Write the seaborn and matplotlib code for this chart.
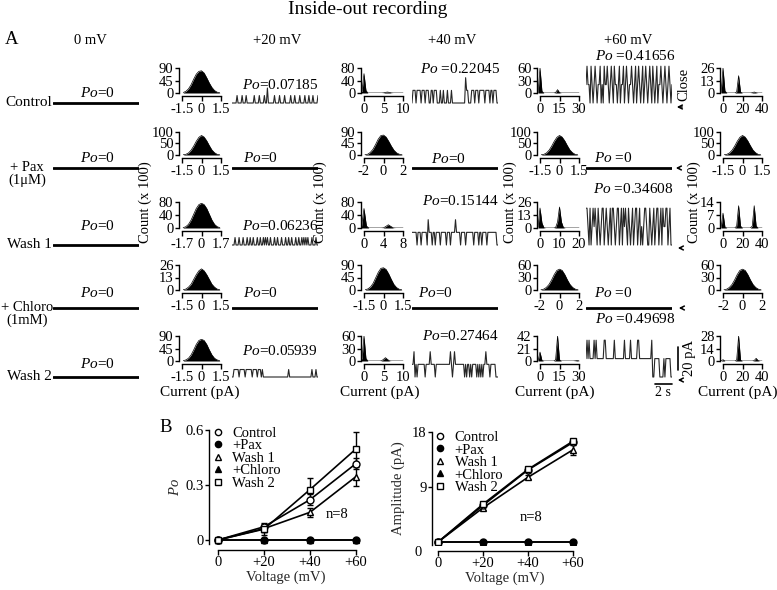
import numpy as np
import matplotlib
matplotlib.use('Agg')
import matplotlib.pyplot as plt
import seaborn as sns
from matplotlib.lines import Line2D
from matplotlib.patches import FancyArrowPatch

# ---------------- data ----------------
conditions = ['Control', '+Pax', 'Wash 1', '+Chloro', 'Wash 2']
voltages = [0, 20, 40, 60]
volt_labels = ['0', '+20', '+40', '+60']

po_mean = {'Control': [0, 0.072, 0.220, 0.417],
           '+Pax': [0, 0, 0, 0],
           'Wash 1': [0, 0.062, 0.151, 0.346],
           '+Chloro': [0, 0, 0, 0],
           'Wash 2': [0, 0.059, 0.275, 0.497]}
po_err = {'Control': [0, 0.02, 0.03, 0.03],
          '+Pax': [0, 0, 0, 0],
          'Wash 1': [0, 0.02, 0.025, 0.05],
          '+Chloro': [0, 0, 0, 0],
          'Wash 2': [0, 0.03, 0.065, 0.09]}
amp_mean = {'Control': [0, 6.0, 11.8, 16.3],
            '+Pax': [0, 0, 0, 0],
            'Wash 1': [0, 5.6, 10.6, 15.1],
            '+Chloro': [0, 0, 0, 0],
            'Wash 2': [0, 6.2, 11.9, 16.5]}
amp_err = {'Control': [0, 0.3, 0.4, 0.3],
           '+Pax': [0, 0, 0, 0],
           'Wash 1': [0, 0.3, 0.3, 0.8],
           '+Chloro': [0, 0, 0, 0],
           'Wash 2': [0, 0.3, 0.4, 0.3]}

row_labels = ['Control', '+ Pax\n(1\u03bcM)', 'Wash 1', '+ Chloro\n(1mM)', 'Wash 2']
col_titles = ['0 mV', '+20 mV', '+40 mV', '+60 mV']
po_text = [['=0', '=0.07185', ' =0.22045', ' =0.41656'],
           ['=0', '=0', '=0', ' =0'],
           ['=0', '=0.06236', '=0.15144', ' =0.34608'],
           ['=0', '=0', '=0', ' =0'],
           ['=0', '=0.05939', '=0.27464', ' =0.49698']]

# unitary current (pA) per voltage column
unit_amp = [0, 6.5, 11, 16]

# single-channel traces, one character per sample = number of open channels
traces = [
    ['', '00000100001000100000001000010000100200000010000100001000001000100001000010001000100001',
     '01110111101110111001101110001001000100010000000000000211000111011101111101111011011100',
     '12110210121011201021121012102110120112012101121012012101201210121021012011210121012101'],
    ['', '', '', ''],
    ['', '00010001000100010010010001001001010100100010010001000100100100010010010101010001000100',
     '11111011101111102111011011110111110111011112111101111011111110111101101111011111111100',
     '22102012121021012201210120221012201202121021012012201201012210021012012201202112201200'],
    ['', '', '', ''],
    ['', '00111110111110111111011110111010000000000000000000000000100000000000000000000001000100',
     '11201011111110111121111011111111111111210121111111110101101011110101010112111011111000',
     '12121111212111111122111111112111111111211111211111122111111111111200111110000101111100'],
]

# amplitude histograms (count x 100)
h_ctrl_20 = [2, 6, 15, 30, 50, 68, 78, 80, 72, 55, 36, 20, 9, 3, 1]
h_ctrl_40 = [0, 6, 62, 8, 0, 0, 0, 0, 0, 0, 0, 0, 0.5, 2, 3, 2, 0.5, 0, 0, 0, 0, 0, 0]
h_ctrl_60 = [0, 60, 4, 0, 0, 0, 0, 0, 0, 1, 8, 1, 0, 0, 0, 0, 0, 0, 0, 0, 0, 0]
h_ctrl_cl = [0, 26, 2, 0, 0, 0, 0, 0, 1, 18, 1, 0, 0, 0, 0, 0, 0.3, 1, 0.3, 0, 0, 0]
h_pax_20 = [1, 3, 9, 21, 39, 60, 77, 85, 78, 62, 41, 22, 10, 3, 1]
h_pax_40 = [1, 3, 10, 22, 41, 62, 76, 78, 70, 53, 34, 18, 8, 3, 1]
h_pax_60 = [1, 3, 9, 21, 39, 60, 77, 85, 78, 62, 41, 22, 10, 3, 1]
h_pax_cl = [1, 3, 9, 21, 39, 60, 77, 85, 78, 62, 41, 22, 10, 3, 1]
h_w1_20 = [1, 4, 11, 24, 42, 60, 72, 76, 72, 60, 42, 24, 11, 4, 1]
h_w1_40 = [0, 5, 60, 6, 0, 0, 0, 0, 0, 0, 0.5, 5, 10, 5, 0.5, 0, 0, 0, 0]
h_w1_60 = [1, 20, 5, 0.3, 0, 0, 0, 0, 0, 0.5, 6, 21, 6, 0.5, 0, 0, 0, 0, 0, 0, 0, 0]
h_w1_cl = [0, 8, 0.5, 0, 0, 0, 0, 0, 1, 12, 1, 0, 0, 0, 0, 0, 1, 12, 1, 0, 0, 0]
h_chl_20 = [0.3, 1, 3, 6, 11, 16, 20, 22, 20, 16, 11, 6, 3, 1, 0.3]
h_chl_40 = [1, 4, 11, 24, 44, 64, 78, 80, 74, 58, 38, 20, 9, 3, 1]
h_chl_60 = [0.5, 2, 6, 13, 24, 37, 47, 50, 47, 37, 24, 13, 6, 2, 0.5]
h_chl_cl = [0.5, 2, 6, 13, 24, 37, 47, 50, 47, 37, 24, 13, 6, 2, 0.5]
h_w2_20 = [1, 4, 10, 22, 40, 60, 74, 78, 74, 60, 40, 22, 10, 4, 1]
h_w2_40 = [0, 6, 60, 6, 0, 0, 0, 0, 0, 0, 0, 0.5, 4, 8, 4, 0.5, 0, 0, 0, 0, 0, 0, 0]
h_w2_60 = [0, 15, 1, 0, 0, 0, 0, 0, 0, 2, 42, 2, 0, 0, 0, 0, 0, 0, 0, 0.3, 0.8, 0.3]
h_w2_cl = [0, 1.5, 0, 0, 0, 0, 0, 0, 1, 28, 1, 0, 0, 0, 0, 0, 0, 0.5, 3, 0.5, 0, 0]

# (bin range lo, hi) , counts, x ticks, x tick labels, y ticks
hists = [
    [((-1.4, 1.4), h_ctrl_20, [-1.5, 0, 1.5], ['-1.5', '0', '1.5'], [0, 45, 90]),
     ((-1, 10), h_ctrl_40, [0, 5, 10], ['0', '5', '10'], [0, 40, 80]),
     ((-1.5, 30), h_ctrl_60, [0, 15, 30], ['0', '15', '30'], [0, 30, 60]),
     ((-2, 40), h_ctrl_cl, [0, 20, 40], ['0', '20', '40'], [0, 13, 26])],
    [((-1.4, 1.4), h_pax_20, [-1.5, 0, 1.5], ['-1.5', '0', '1.5'], [0, 50, 100]),
     ((-1.9, 1.9), h_pax_40, [-2, 0, 2], ['-2', '0', '2'], [0, 45, 90]),
     ((-1.4, 1.4), h_pax_60, [-1.5, 0, 1.5], ['-1.5', '0', '1.5'], [0, 50, 100]),
     ((-1.4, 1.4), h_pax_cl, [-1.5, 0, 1.5], ['-1.5', '0', '1.5'], [0, 50, 100])],
    [((-1.6, 1.6), h_w1_20, [-1.7, 0, 1.7], ['-1.7', '0', '1.7'], [0, 40, 80]),
     ((-1, 8), h_w1_40, [0, 4, 8], ['0', '4', '8'], [0, 40, 80]),
     ((-1, 20), h_w1_60, [0, 10, 20], ['0', '10', '20'], [0, 13, 26]),
     ((-2, 40), h_w1_cl, [0, 20, 40], ['0', '20', '40'], [0, 7, 14])],
    [((-1.4, 1.4), h_chl_20, [-1.5, 0, 1.5], ['-1.5', '0', '1.5'], [0, 13, 26]),
     ((-1.4, 1.4), h_chl_40, [-1.5, 0, 1.5], ['-1.5', '0', '1.5'], [0, 45, 90]),
     ((-1.9, 1.9), h_chl_60, [-2, 0, 2], ['-2', '0', '2'], [0, 30, 60]),
     ((-1.9, 1.9), h_chl_cl, [-2, 0, 2], ['-2', '0', '2'], [0, 30, 60])],
    [((-1.4, 1.4), h_w2_20, [-1.5, 0, 1.5], ['-1.5', '0', '1.5'], [0, 45, 90]),
     ((-1, 10), h_w2_40, [0, 5, 10], ['0', '5', '10'], [0, 30, 60]),
     ((-1.5, 30), h_w2_60, [0, 15, 30], ['0', '15', '30'], [0, 21, 42]),
     ((-2, 40), h_w2_cl, [0, 20, 40], ['0', '20', '40'], [0, 14, 28])],
]

# ---------------- style ----------------
sns.set_theme(style='ticks')
plt.rcParams['font.family'] = ['Liberation Serif', 'DejaVu Serif']
plt.rcParams.update({
    'font.size': 10.5, 'xtick.labelsize': 10.5, 'ytick.labelsize': 10.5,
    'axes.labelsize': 10.5, 'legend.fontsize': 10.5,
    'mathtext.fontset': 'custom', 'mathtext.it': 'Liberation Serif:italic',
    'mathtext.rm': 'Liberation Serif',
    'axes.edgecolor': 'black', 'axes.linewidth': 1.0,
    'xtick.color': 'black', 'ytick.color': 'black', 'text.color': 'black',
    'xtick.major.width': 1.0, 'ytick.major.width': 1.0,
    'xtick.major.size': 3.5, 'ytick.major.size': 3,
    'xtick.major.pad': 1.0, 'ytick.major.pad': 1.0,
})

W, H = 777, 590
fig = plt.figure(figsize=(W / 100, H / 100), dpi=100)


def box(x0, y0, x1, y1):
    return fig.add_axes([x0 / W, 1 - y1 / H, (x1 - x0) / W, (y1 - y0) / H])


def ftext(x, y, s, **kw):
    kw.setdefault('ha', 'center')
    kw.setdefault('va', 'center')
    fig.text(x / W, 1 - y / H, s, **kw)


def arrow(x0, x1, y):
    fig.add_artist(FancyArrowPatch((x0 / W, 1 - y / H), (x1 / W, 1 - y / H),
                                   transform=fig.transFigure, arrowstyle='->',
                                   mutation_scale=7, lw=1.1, color='black'))


def fline(xs, ys, lw=1.2):
    fig.add_artist(Line2D([x / W for x in xs], [1 - y / H for y in ys],
                          transform=fig.transFigure, color='black', lw=lw))


# ---------------- panel A layout ----------------
hist_top = [68, 132, 202, 265, 336]
hist_zero = [93, 155, 228, 290, 361]
baseline = [103, 168, 245, 308, 377]
hist_x0 = [179, 361, 537, 720]
trace_x = [(53, 139), (232, 318), (412, 498), (586, 672)]
po_pos = [[(97, 93), (280, 85), (460, 69), (635, 56)],
          [(97, 158), (260, 158), (448, 159), (613, 158)],
          [(97, 226), (280, 226), (460, 201), (633, 189)],
          [(97, 293), (260, 293), (435, 293), (613, 293)],
          [(97, 364), (280, 351), (460, 336), (635, 319)]]
px_per_pA = 1.15

ftext(368, 10, 'Inside-out recording', fontsize=14)
ftext(12, 40, 'A', fontsize=13.5)
for x, t in zip([90, 277, 452, 628], col_titles):
    ftext(x, 40, t, fontsize=10.5)

for r in range(5):
    # row label
    if '\n' in row_labels[r]:
        ftext(27, baseline[r] + 6, row_labels[r], linespacing=0.95, fontsize=10.5)
    else:
        ftext(52, baseline[r], row_labels[r], ha='right', fontsize=11)

    # traces
    for c in range(4):
        x0, x1 = trace_x[c]
        yb = baseline[r]
        ax = box(x0, yb - 50, x1, yb + 4)
        s = traces[r][c]
        if s:
            lev = np.array([int(ch) for ch in s])
            y = lev * unit_amp[c]
            t = np.arange(len(lev))
            sns.lineplot(x=t, y=y, ax=ax, color='#262626', lw=0.8)
        else:
            t = np.arange(86)
            y = np.zeros(86)
            sns.lineplot(x=t, y=y, ax=ax, color='black', lw=2.0)
        ax.set_xlim(t[0], t[-1])
        ax.set_ylim(-4 / px_per_pA, 50 / px_per_pA)
        ax.axis('off')
        px, py = po_pos[r][c]
        ftext(px, py, r'$\mathit{Po}$' + po_text[r][c], fontsize=11)

    # histograms
    for c in range(4):
        (lo, hi), counts, xt, xtl, yt = hists[r][c]
        x = np.linspace(lo, hi, len(counts))
        ax = box(hist_x0[c], hist_top[r], hist_x0[c] + 44, hist_zero[r])
        sns.lineplot(x=x, y=counts, ax=ax, color='black', lw=0.5)
        ax.fill_between(x, counts, color='black', lw=0)
        t0, t1 = xt[0], xt[-1]
        ppu = 39 / (t1 - t0)
        ax.set_xlim(t0 - 3 / ppu, t1 + 2 / ppu)
        ax.set_ylim(0, yt[-1])
        ax.set_xticks(xt)
        ax.set_xticklabels(xtl)
        ax.set_yticks(yt)
        ax.set_yticklabels([str(v) for v in yt])
        ax.set_xlabel('')
        ax.set_ylabel('')
        sns.despine(ax=ax)
        ax.spines['bottom'].set_position(('outward', 2.5))
        ax.spines['bottom'].set_bounds(t0, t1)

for x in [145, 320, 510, 694]:
    ftext(x, 202, 'Count (x 100)', rotation=90, fontsize=10.5)
for x in [200, 380, 555, 738]:
    ftext(x, 392, 'Current (pA)', fontsize=11)

# closed-level arrows and scale bars
ftext(684, 84, 'Close', rotation=90, fontsize=10.5)
arrow(685, 674, 107)
arrow(682, 673, 168)
arrow(684, 675, 248)
arrow(685, 676, 308)
arrow(684, 675, 380)
fline([678, 678], [347, 370])
ftext(689, 358, '20 pA', rotation=90, fontsize=10.5)
fline([655, 672], [384, 384])
ftext(663, 392, '2 s', fontsize=10)

# ---------------- panel B ----------------
mk = {'Control': ('o', 'white'), '+Pax': ('o', 'black'), 'Wash 1': ('^', 'white'),
      '+Chloro': ('^', 'black'), 'Wash 2': ('s', 'white')}
order = ['+Pax', '+Chloro', 'Wash 1', 'Control', 'Wash 2']


def panel_b(ax, means, errs):
    for cond in order:
        m, fc = mk[cond]
        ax.errorbar(voltages, means[cond], yerr=errs[cond], fmt='none', ecolor='black',
                    elinewidth=1, capsize=2, capthick=1, zorder=2)
        sns.lineplot(x=voltages, y=means[cond], ax=ax, color='black', lw=1.2, marker=m,
                     markerfacecolor=fc, markeredgecolor='black', markersize=5,
                     markeredgewidth=1, zorder=3)
    handles = [Line2D([], [], marker=mk[c][0], markerfacecolor=mk[c][1], markeredgecolor='black',
                      markeredgewidth=1, markersize=4.5, ls='none', color='black') for c in conditions]
    sns.despine(ax=ax)
    ax.spines['bottom'].set_position(('outward', 4))
    ax.spines['bottom'].set_bounds(0, 60)
    ax.set_xticks(voltages)
    ax.set_xticklabels(volt_labels)
    ax.set_xlabel('Voltage (mV)', labelpad=1)
    return handles


axL = box(209, 430, 362, 544)
handles = panel_b(axL, po_mean, po_err)
axL.set_xlim(-3.9, 62.6)
axL.set_ylim(-0.022, 0.6)
axL.set_yticks([0, 0.3, 0.6])
axL.set_yticklabels(['0', '0.3', '0.6'])
axL.set_ylabel(r'$\mathit{Po}$', labelpad=2)
axL.legend(handles, conditions, loc='upper left', bbox_to_anchor=(0.02, 1.03), frameon=False,
           handlelength=0.8, handletextpad=0.6, labelspacing=-0.05, borderpad=0, borderaxespad=0)
axL.text(0.84, 0.26, 'n=8', transform=axL.transAxes, ha='center', va='center')

axR = box(432, 432, 578, 545)
handles = panel_b(axR, amp_mean, amp_err)
axR.set_xlim(-2.7, 62.2)
axR.set_ylim(-0.49, 18)
axR.set_yticks([9, 18])
axR.set_yticklabels(['9', '18'])
axR.set_ylabel('Amplitude (pA)', labelpad=5)
axR.legend(handles, conditions, loc='upper left', bbox_to_anchor=(0.015, 1.01), frameon=False,
           handlelength=0.8, handletextpad=0.6, labelspacing=-0.05, borderpad=0, borderaxespad=0)
axR.text(0.68, 0.24, 'n=8', transform=axR.transAxes, ha='center', va='center')
ftext(418, 553, '0')
ftext(166, 428, 'B', fontsize=13.5)

fig.savefig('out.png', dpi=100)
